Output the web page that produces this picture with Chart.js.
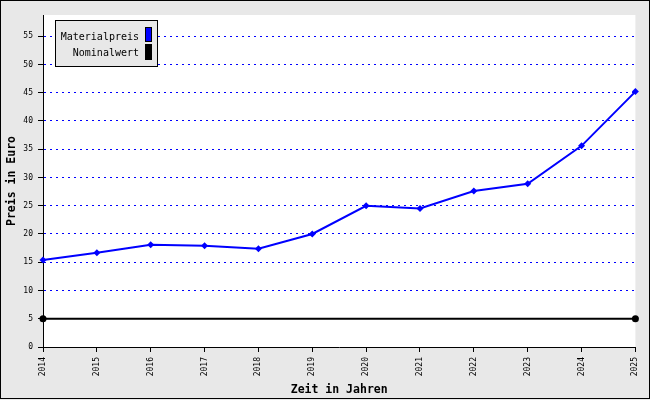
<!DOCTYPE html>
<html>
<head>
<meta charset="utf-8">
<script src="https://cdn.jsdelivr.net/npm/chart.js@4/dist/chart.umd.min.js"></script>
<style>
  html, body { margin: 0; padding: 0; background: #e8e8e8; }
  #wrap { width: 650px; height: 400px; position: relative; }
</style>
</head>
<body>
<div id="wrap"><canvas id="c" width="650" height="400"></canvas></div>
<script>
const categories = ['2014','2015','2016','2017','2018','2019','2020','2021','2022','2023','2024','2025'];
const materialpreis = [15.4, 16.7, 18.1, 17.9, 17.4, 20.0, 25.0, 24.5, 27.6, 28.9, 35.6, 45.2];
const nominalwert = [5, 5, 5, 5, 5, 5, 5, 5, 5, 5, 5, 5];
const seriesNames = ['Materialpreis', 'Nominalwert'];
const seriesColors = ['#0000ff', '#000000'];
const yTitle = 'Preis in Euro';
const xTitle = 'Zeit in Jahren';
const yMax = 58.76;

const MONO = "'DejaVu Sans Mono', 'Liberation Mono', monospace";

const bgPlugin = {
  id: 'bg',
  beforeDraw(chart) {
    const ctx = chart.ctx;
    const a = chart.chartArea;
    ctx.save();
    ctx.fillStyle = '#e8e8e8';
    ctx.fillRect(0, 0, chart.width, chart.height);
    ctx.fillStyle = '#ffffff';
    ctx.fillRect(a.left, a.top, a.right - a.left, a.bottom - a.top);
    ctx.strokeStyle = '#000';
    ctx.lineWidth = 1;
    ctx.strokeRect(0.5, 0.5, chart.width - 1, chart.height - 2);
    ctx.restore();
  },
  afterDraw(chart) {
    const ctx = chart.ctx;
    ctx.save();
    // legend box
    ctx.fillStyle = '#e8e8e8';
    ctx.fillRect(55, 20, 102, 47);
    ctx.strokeStyle = '#000';
    ctx.lineWidth = 1;
    ctx.strokeRect(55.5, 20.5, 102, 46);
    ctx.font = '10px ' + MONO;
    ctx.textAlign = 'right';
    ctx.textBaseline = 'middle';
    ctx.fillStyle = '#000';
    ctx.fillText(seriesNames[0], 139, 37);
    ctx.fillText(seriesNames[1], 139, 53);
    ctx.fillStyle = seriesColors[0];
    ctx.fillRect(145, 27, 7, 15);
    ctx.strokeRect(145.5, 27.5, 6, 14);
    ctx.fillStyle = seriesColors[1];
    ctx.fillRect(145, 44, 7, 16);
    ctx.restore();
  }
};

new Chart(document.getElementById('c'), {
  type: 'line',
  data: {
    labels: categories,
    datasets: [
      {
        label: seriesNames[1],
        data: nominalwert,
        borderColor: seriesColors[1],
        backgroundColor: seriesColors[1],
        borderWidth: 2,
        pointStyle: 'circle',
        pointRadius: nominalwert.map((v, i) => (i === 0 || i === nominalwert.length - 1) ? 3.5 : 0),
        pointBorderWidth: 0,
        tension: 0,
        order: 2
      },
      {
        label: seriesNames[0],
        data: materialpreis,
        borderColor: seriesColors[0],
        backgroundColor: seriesColors[0],
        borderWidth: 2,
        pointStyle: 'rectRot',
        pointRadius: 3.5,
        pointBorderWidth: 0,
        tension: 0,
        order: 1
      }
    ]
  },
  options: {
    responsive: false,
    animation: false,
    devicePixelRatio: 1,
    layout: { padding: { top: 15, right: 14, left: 0, bottom: 0 } },
    plugins: { legend: { display: false }, tooltip: { enabled: false } },
    scales: {
      x: {
        type: 'category',
        offset: false,
        afterFit(s) { s.height = 53; },
        grid: { display: true, drawOnChartArea: false, drawTicks: true, tickLength: 5, tickColor: '#000', tickWidth: 1 },
        border: { display: true, color: '#000', width: 1 },
        ticks: { color: '#000', font: { family: MONO, size: 8 }, minRotation: 90, maxRotation: 90, padding: 5, autoSkip: false },
        title: { display: true, text: xTitle, color: '#000', font: { family: MONO, size: 11.5, weight: 'bold' }, padding: { top: 0, bottom: 3 } }
      },
      y: {
        min: 0,
        max: yMax,
        afterFit(s) { s.width = 43; },
        grid: { display: true, drawOnChartArea: true, drawTicks: true, tickLength: 5, tickColor: '#000', tickWidth: 1, tickBorderDash: [], color: (ctx) => ctx.tick && ctx.tick.value === 0 ? 'rgba(0,0,0,0)' : '#0000ff', lineWidth: 1 },
        border: { display: true, color: '#000', width: 1, dash: [2, 4] },
        ticks: { stepSize: 5, includeBounds: false, color: '#000', font: { family: MONO, size: 8 }, padding: 5 },
        title: { display: true, text: yTitle, color: '#000', font: { family: MONO, size: 11.5, weight: 'bold' }, padding: { top: 5, bottom: 0 } }
      }
    }
  },
  plugins: [bgPlugin]
});
</script>
</body>
</html>
